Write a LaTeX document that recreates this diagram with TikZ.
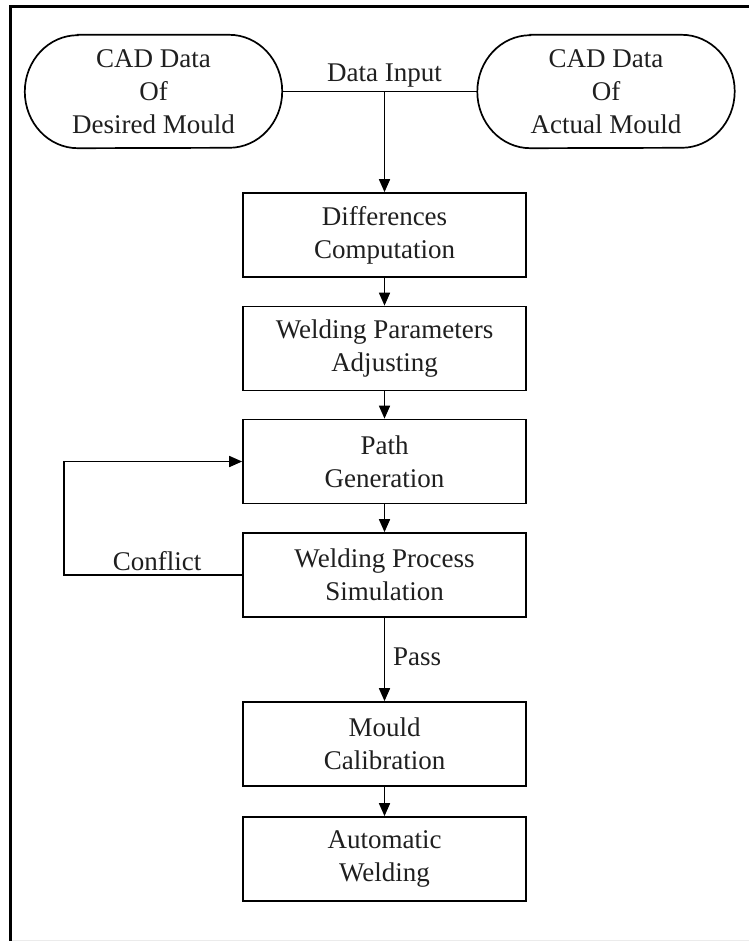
\documentclass[tikz,border=0pt]{standalone}
\usepackage{fontspec}
\setmainfont{Liberation Serif}
\usetikzlibrary{arrows.meta}

% stadium-shaped outline around a (borderless) terminal node
\newcommand\termoutline[1]{%
  \draw[link] ([xshift=53pt]#1.north west) -- ([xshift=-53pt]#1.north east)
    arc[start angle=90, end angle=-90, x radius=53pt, y radius=56.5pt]
    -- ([xshift=53pt]#1.south west)
    arc[start angle=270, end angle=90, x radius=53pt, y radius=56.5pt]
    -- cycle;}

\begin{document}
\begin{tikzpicture}[x=1pt, y=1pt,
  every node/.style={font=\fontsize{27}{33}\selectfont, text=black!88},
  link/.style={line width=1.7pt},
  flow/.style={link, -{Triangle[length=13pt, width=11pt]}},
  procbox/.style={draw, line width=1.7pt, minimum width=283pt, minimum height=84pt,
                  align=center, inner sep=0pt},
  termtext/.style={minimum width=257pt, minimum height=113pt, align=center, inner sep=0pt},
  frameline/.style={line width=3pt}]
\useasboundingbox (0,0) rectangle (749,-941);

% page frame
\draw[frameline] (10.5,-941) -- (10.5,-7) -- (749,-7);
\draw[black!8, line width=1pt] (12,-940) -- (749,-940);

% input data
\node[termtext] (dm) at (153.5,-91.5) {CAD Data\\Of\\Desired Mould};
\node[termtext] (am) at (606,-91.5) {CAD Data\\Of\\Actual Mould};
\termoutline{dm}
\termoutline{am}

% process steps
\node[procbox] (b1) at (384.5,-235)   {Differences\\Computation};
\node[procbox] (b2) at (384.5,-348.5) {Welding Parameters\\Adjusting};
\node[procbox] (b3) at (384.5,-461.5) {Path\\Generation};
\node[procbox] (b4) at (384.5,-575)   {Welding Process\\Simulation};
\node[procbox] (b5) at (384.5,-744)   {Mould\\Calibration};
\node[procbox] (b6) at (384.5,-859)   {Automatic\\Welding};

% connectors
\coordinate (j) at (384.5,-91.5);
\draw[link] (dm.east) -- (am.west);
\draw[flow] (j) -- (b1.north);
\draw[flow] (b1.south) -- (b2.north);
\draw[flow] (b2.south) -- (b3.north);
\draw[flow] (b3.south) -- (b4.north);
\draw[flow] (b4.south) -- (b5.north);
\draw[flow] (b5.south) -- (b6.north);
\coordinate (lp) at (64,-575);
\draw[flow] (b4.west) -- (lp) |- (b3.west);

% labels
\node[anchor=base] (din) at (384.5,-82) {Data Input};
\node[anchor=base] (cfl) at (157,-570.5) {Conflict};
\node[anchor=base west, inner sep=0pt] (pss) at (393,-665) {Pass};
\end{tikzpicture}
\end{document}
